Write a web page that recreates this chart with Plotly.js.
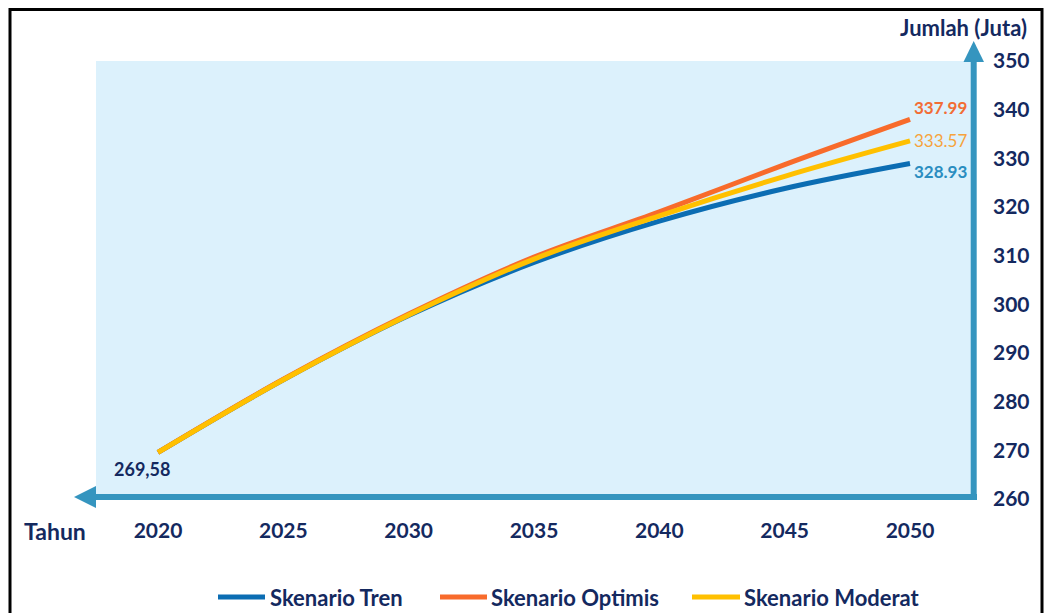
<!DOCTYPE html>
<html>
<head>
<meta charset="utf-8">
<script src="https://cdn.plot.ly/plotly-3.0.1.min.js"></script>
<style>html,body{margin:0;padding:0;background:#fff;}#chart{width:1047px;height:613px;}</style>
</head>
<body>
<div id="chart"></div>
<script>
// ---- data ----
var years = [2020, 2025, 2030, 2035, 2040, 2045, 2050];
var tickYears = [2020, 2025, 2030, 2035, 2040, 2045, 2050];
var yTicks = [260, 270, 280, 290, 300, 310, 320, 330, 340, 350];
var seriesNames = ["Skenario Tren", "Skenario Optimis", "Skenario Moderat"];
var tren    = [269.58, 284.5, 297.7, 308.6, 317.1, 323.8, 328.93];
var optimis = [269.58, 284.6, 298.0, 309.7, 319.0, 328.7, 337.99];
var moderat = [269.58, 284.5, 297.8, 309.3, 318.2, 326.3, 333.57];
var startLabel = "269,58";

// ---- style ----
var NAVY = "#14295f";
var FONT = "Lato, 'Open Sans', sans-serif";
var colors = ["#0b6db3", "#f86b2b", "#ffc000"];
var labelColors = ["#2a8dc0", "#f26d35", "#f6a33d"];
var ARROW = "#3595bf";

var W = 1047, H = 613;
var L = 97, R = 73, T = 61, B = 114;
var PW = W - L - R, PH = H - T - B;
function px(x) { return (x - L) / PW; }
function py(y) { return (H - B - y) / PH; }

var data = [tren, optimis, moderat];
var traces = data.map(function (vals, i) {
  return {
    x: years, y: vals, type: "scatter", mode: "lines", name: seriesNames[i],
    line: { color: colors[i], width: 5, shape: "spline", smoothing: 1 },
    hoverinfo: "x+y", showlegend: false
  };
});

var shapes = [];
// light blue background panel
shapes.push({ type: "rect", xref: "paper", yref: "paper", x0: px(96), x1: px(972), y0: py(496), y1: py(61),
  fillcolor: "#dcf1fc", line: { width: 0 }, layer: "below" });
// horizontal arrow shaft
shapes.push({ type: "line", xref: "paper", yref: "paper", x0: px(977), x1: px(92), y0: py(497), y1: py(497),
  line: { color: ARROW, width: 6 } });
// horizontal arrow head
shapes.push({ type: "path", xref: "paper", yref: "paper",
  path: "M " + px(74) + " " + py(497) + " L " + px(96) + " " + py(486) + " L " + px(96) + " " + py(508) + " Z",
  fillcolor: ARROW, line: { width: 0 } });
// vertical arrow shaft
shapes.push({ type: "line", xref: "paper", yref: "paper", x0: px(973.7), x1: px(973.7), y0: py(500), y1: py(58),
  line: { color: ARROW, width: 6 } });
// vertical arrow head
shapes.push({ type: "path", xref: "paper", yref: "paper",
  path: "M " + px(973.7) + " " + py(41) + " L " + px(963.5) + " " + py(62) + " L " + px(984) + " " + py(62) + " Z",
  fillcolor: ARROW, line: { width: 0 } });
// outer frame (left, top, right)
shapes.push({ type: "path", xref: "paper", yref: "paper",
  path: "M " + px(10) + " " + py(615) + " L " + px(10) + " " + py(9.5) + " L " + px(1042) + " " + py(9.5) + " L " + px(1042) + " " + py(615),
  line: { color: "#000", width: 3 } });

// custom legend
var legendLines = [[218, 265], [440, 487], [692, 740]];
var legendText = [268, 489, 742];
var annotations = [];
legendLines.forEach(function (seg, i) {
  shapes.push({ type: "line", xref: "paper", yref: "paper", x0: px(seg[0]), x1: px(seg[1]), y0: py(597), y1: py(597),
    line: { color: colors[i], width: 5 } });
  annotations.push({ xref: "paper", yref: "paper", x: px(legendText[i]), y: py(597), xanchor: "left", yanchor: "middle",
    text: "<b>" + seriesNames[i] + "</b>", showarrow: false, font: { family: FONT, size: 22, color: NAVY } });
});

// end labels
var last = years.length - 1;
var endShifts = [[30, -8], [30, 12], [30, 0]];
var endBold = [true, true, false];
data.forEach(function (vals, i) {
  var v = vals[last].toFixed(2);
  annotations.push({ x: years[last], y: vals[last], xref: "x", yref: "y", showarrow: false,
    xshift: endShifts[i][0], yshift: endShifts[i][1],
    text: endBold[i] ? "<b>" + v + "</b>" : v,
    font: { family: FONT, size: 17, color: labelColors[i] } });
});
annotations.push({ x: years[0], y: tren[0], xref: "x", yref: "y", showarrow: false, xshift: -16, yshift: -17,
  text: "<b>" + startLabel + "</b>", font: { family: FONT, size: 18, color: NAVY } });

// axis titles
annotations.push({ xref: "paper", yref: "paper", x: px(55), y: py(531), showarrow: false, xanchor: "center", yanchor: "middle",
  text: "<b>Tahun</b>", font: { family: FONT, size: 23, color: NAVY } });
annotations.push({ xref: "paper", yref: "paper", x: px(963), y: py(27), showarrow: false, xanchor: "center", yanchor: "middle",
  text: "<b>Jumlah (Juta)</b>", font: { family: FONT, size: 22, color: NAVY } });

var layout = {
  width: W, height: H,
  margin: { l: L, r: R, t: T, b: B, pad: 0 },
  paper_bgcolor: "#ffffff", plot_bgcolor: "rgba(0,0,0,0)",
  showlegend: false,
  font: { family: FONT, color: NAVY },
  xaxis: {
    range: [2020 - 61 / 25.067, 2050 + 64 / 25.067],
    tickvals: tickYears, ticktext: tickYears.map(String),
    showgrid: false, zeroline: false, showline: false, ticks: "",
    ticklabelstandoff: 17,
    tickfont: { family: FONT, size: 21, color: NAVY, weight: "bold" },
    fixedrange: true
  },
  yaxis: {
    side: "right", range: [260, 350],
    tickvals: yTicks, ticktext: yTicks.map(String),
    showgrid: false, zeroline: false, showline: false, ticks: "",
    ticklabelstandoff: 18,
    tickfont: { family: FONT, size: 21, color: NAVY, weight: "bold" },
    fixedrange: true
  },
  shapes: shapes,
  annotations: annotations
};

Plotly.newPlot("chart", traces, layout, { displayModeBar: false, staticPlot: true });
</script>
</body>
</html>
